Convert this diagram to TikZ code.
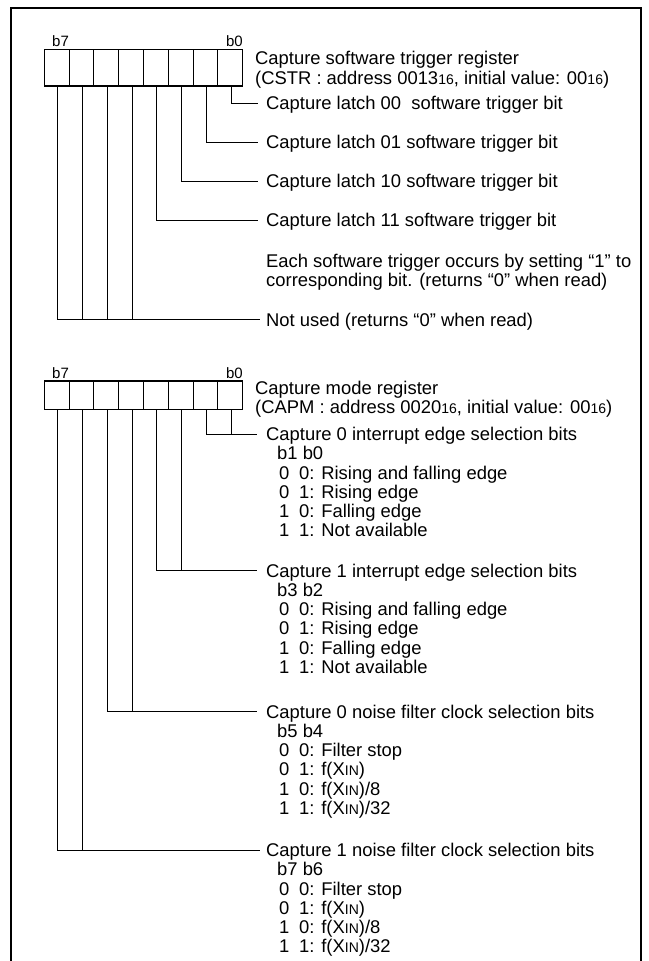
\documentclass[tikz,border=0pt]{standalone}
\usepackage{fontspec}
\setmainfont{Liberation Sans}
\newcommand\subsz[1]{{\fontsize{14}{14}\selectfont #1}}
\newcommand\bitrow[2]{\makebox[20pt][l]{#1}#2}
\begin{document}
\begin{tikzpicture}[x=1pt,y=-1pt,
  txt/.style={anchor=west,inner sep=0pt,text height=13.2pt,text depth=0pt,font=\fontsize{18.4}{19}\selectfont},
  lbl/.style={inner sep=0pt,font=\fontsize{15}{15}\selectfont},
  cella/.style={draw,line width=1.1pt,minimum width=24.8pt,minimum height=36.7pt,inner sep=0pt},
  cellb/.style={draw,line width=1.1pt,minimum width=24.8pt,minimum height=28.3pt,inner sep=0pt},
  conn/.style={line width=1pt},
  frame/.style={line width=2.2pt,line join=miter}]
\fill[white] (0,0) rectangle (648,961);
\useasboundingbox (0,0) rectangle (648,961);
\draw[frame] (11,962) -- (11,8) -- (641,8) -- (641,962);

% ---------- register 1 ----------
\foreach \i in {0,...,7}{
  \node[cella] (ra\i) at ({242.7-24.8*(\i+0.5)},67.65) {};
}
\node[lbl,anchor=base west] (ra7l) at (52,46.7) {b7};
\node[lbl,anchor=base east] (ra0l) at (243,46.7) {b0};

\node[txt] (h1a) at (255,58.3) {Capture software trigger register};
\node[txt] (h1b) at (255,78) {(CSTR : address 0013\subsz{16}, initial value: 00\subsz{16})};
\node[txt] (t0) at (266,103) {Capture latch 00~ software trigger bit};
\node[txt] (t1) at (266,142) {Capture latch 01 software trigger bit};
\node[txt] (t2) at (266,181) {Capture latch 10 software trigger bit};
\node[txt] (t3) at (266,220) {Capture latch 11 software trigger bit};
\node[txt] (e1) at (266,260.7) {Each software trigger occurs by setting “1” to};
\node[txt] (e2) at (266,279.7) {corresponding bit. (returns “0” when read)};
\node[txt] (tn) at (266,319.5) {Not used (returns “0” when read)};

\draw[conn] ([xshift=1pt]ra0.south) |- ([xshift=-8pt]t0.west);
\draw[conn] ([xshift=1pt]ra1.south) |- ([xshift=-8pt]t1.west);
\draw[conn] ([xshift=1pt]ra2.south) |- ([xshift=-8pt]t2.west);
\draw[conn] ([xshift=1pt]ra3.south) |- ([xshift=-8pt]t3.west);
\draw[conn] ([xshift=1pt]ra7.south) |- ([xshift=-6pt]tn.west);
\foreach \i in {4,5,6}{
  \draw[conn] ([xshift=1pt]ra\i.south) -- ([xshift=1pt]ra\i.south |- tn.west);
}

% ---------- register 2 ----------
\foreach \i in {0,...,7}{
  \node[cellb] (rb\i) at ({242.7-24.8*(\i+0.5)},395.15) {};
}
\node[lbl,anchor=base west] (rb7l) at (52,378) {b7};
\node[lbl,anchor=base east] (rb0l) at (243,378) {b0};

\node[txt] (h2a) at (255,387.5) {Capture mode register};
\node[txt] (h2b) at (255,407) {(CAPM : address 0020\subsz{16}, initial value: 00\subsz{16})};

% block A
\node[txt] (ta) at (266,434) {Capture 0 interrupt edge selection bits};
\node[txt] (ta0) at (277,453.2) {b1 b0};
\node[txt] (ta1) at (279,472.4) {\bitrow{0}{0: Rising and falling edge}};
\node[txt] (ta2) at (279,491.6) {\bitrow{0}{1: Rising edge}};
\node[txt] (ta3) at (279,510.8) {\bitrow{1}{0: Falling edge}};
\node[txt] (ta4) at (279,530) {\bitrow{1}{1: Not available}};

% block B
\node[txt] (tb) at (266,570.7) {Capture 1 interrupt edge selection bits};
\node[txt] (tb0) at (277,589.9) {b3 b2};
\node[txt] (tb1) at (279,609.1) {\bitrow{0}{0: Rising and falling edge}};
\node[txt] (tb2) at (279,628.3) {\bitrow{0}{1: Rising edge}};
\node[txt] (tb3) at (279,647.5) {\bitrow{1}{0: Falling edge}};
\node[txt] (tb4) at (279,666.7) {\bitrow{1}{1: Not available}};

% block C
\node[txt] (tc) at (266,711.7) {Capture 0 noise filter clock selection bits};
\node[txt] (tc0) at (277,730.9) {b5 b4};
\node[txt] (tc1) at (279,750.1) {\bitrow{0}{0: Filter stop}};
\node[txt] (tc2) at (279,769.3) {\bitrow{0}{1: f(X\subsz{IN})}};
\node[txt] (tc3) at (279,788.5) {\bitrow{1}{0: f(X\subsz{IN})/8}};
\node[txt] (tc4) at (279,807.7) {\bitrow{1}{1: f(X\subsz{IN})/32}};

% block D
\node[txt] (td) at (266,850) {Capture 1 noise filter clock selection bits};
\node[txt] (td0) at (277,869.2) {b7 b6};
\node[txt] (td1) at (279,888.4) {\bitrow{0}{0: Filter stop}};
\node[txt] (td2) at (279,907.6) {\bitrow{0}{1: f(X\subsz{IN})}};
\node[txt] (td3) at (279,926.8) {\bitrow{1}{0: f(X\subsz{IN})/8}};
\node[txt] (td4) at (279,946) {\bitrow{1}{1: f(X\subsz{IN})/32}};

\draw[conn] ([xshift=1pt]rb1.south) |- ([xshift=-9pt]ta.west);
\draw[conn] ([xshift=1pt]rb0.south) -- ([xshift=1pt]rb0.south |- ta.west);
\draw[conn] ([xshift=1pt]rb3.south) |- ([xshift=-9pt]tb.west);
\draw[conn] ([xshift=1pt]rb2.south) -- ([xshift=1pt]rb2.south |- tb.west);
\draw[conn] ([xshift=1pt]rb5.south) |- ([xshift=-9pt]tc.west);
\draw[conn] ([xshift=1pt]rb4.south) -- ([xshift=1pt]rb4.south |- tc.west);
\draw[conn] ([xshift=1pt]rb7.south) |- ([xshift=-6pt]td.west);
\draw[conn] ([xshift=1pt]rb6.south) -- ([xshift=1pt]rb6.south |- td.west);
\end{tikzpicture}
\end{document}
